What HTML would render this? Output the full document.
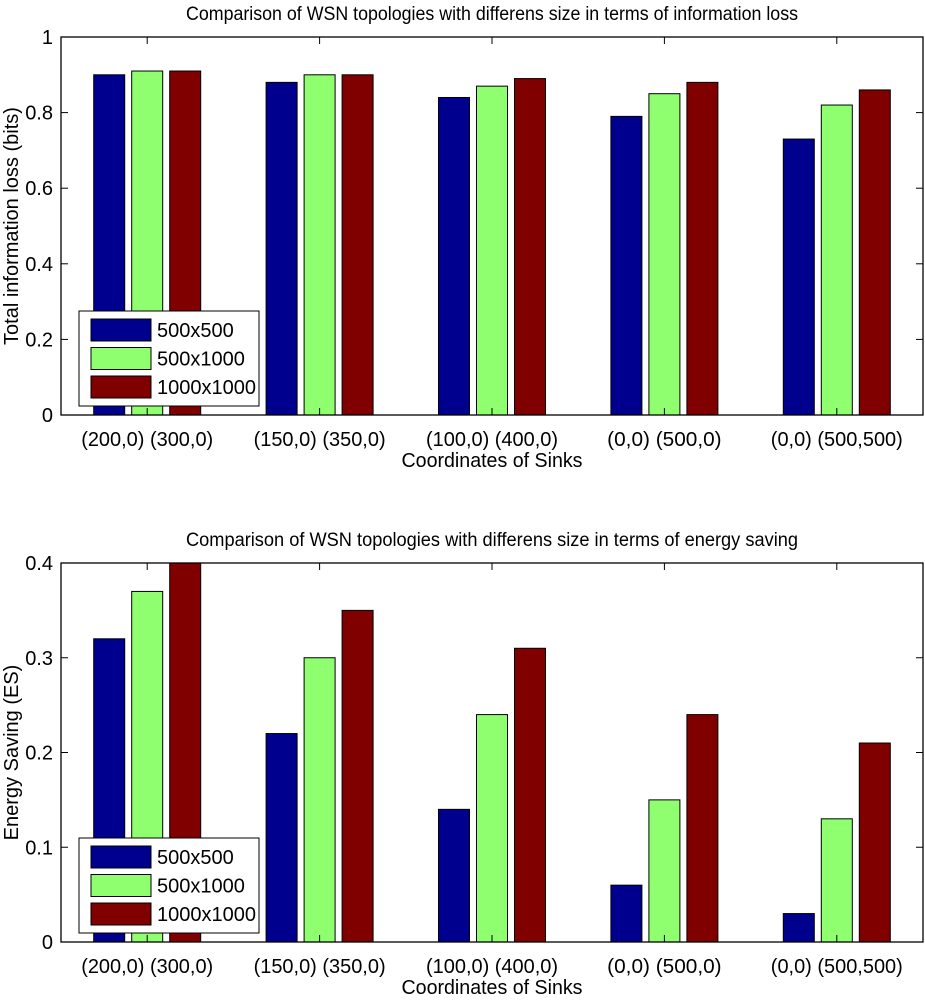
<!DOCTYPE html>
<html><head><meta charset="utf-8"><style>
body{margin:0;background:#fff}
svg text{font-family:"Liberation Sans",sans-serif;fill:#000}
</style></head><body>
<svg id="svg" width="925" height="1000" xmlns="http://www.w3.org/2000/svg"></svg>
<script>
const categories=["(200,0) (300,0)","(150,0) (350,0)","(100,0) (400,0)","(0,0) (500,0)","(0,0) (500,500)"];
const seriesNames=["500x500","500x1000","1000x1000"];
const lossA=[0.90,0.88,0.84,0.79,0.73];
const lossB=[0.91,0.90,0.87,0.85,0.82];
const lossC=[0.91,0.90,0.89,0.88,0.86];
const esA=[0.32,0.22,0.14,0.06,0.03];
const esB=[0.37,0.30,0.24,0.15,0.13];
const esC=[0.40,0.35,0.31,0.24,0.21];
const lossTicks=["0","0.2","0.4","0.6","0.8","1"];
const esTicks=["0","0.1","0.2","0.3","0.4"];
const colors=["#00008f","#8fff70","#800000"];
const NS="http://www.w3.org/2000/svg";
const svg=document.getElementById('svg');
function mk(t,a,p){const e=document.createElementNS(NS,t);for(const k in a)e.setAttribute(k,a[k]);(p||svg).appendChild(e);return e;}
function chart(name,top,bottom,ymax,ticks,series,title,ylabel){
  const L=61,R=923,W=R-L,gw=W/categories.length;
  const g=mk('g',{});
  
  
  const y=v=>bottom-(v/ymax)*(bottom-top);
  const x=i=>L+gw*(i+0.5);
  const t=mk('text',{x:(L+R)/2,y:top-17,'text-anchor':'middle','font-size':19,textLength:612,lengthAdjust:'spacingAndGlyphs'},g);t.textContent=title;
  
  series.forEach((s,si)=>{s.forEach((v,i)=>{
    const r=mk('rect',{x:x(i)+(si-1)*38-15.5,y:y(v),width:31,height:bottom-y(v),fill:colors[si],stroke:'#000','stroke-width':1},g);
    
    
  });});
  mk('rect',{x:L,y:top,width:W,height:bottom-top,fill:'none',stroke:'#000','stroke-width':1.3},g);
  ticks.forEach(tk=>{const yy=y(parseFloat(tk));
    mk('line',{x1:L,x2:L+7,y1:yy,y2:yy,stroke:'#000'},g);mk('line',{x1:R,x2:R-7,y1:yy,y2:yy,stroke:'#000'},g);
    const tt=mk('text',{x:L-8,y:yy+7,'text-anchor':'end','font-size':20},g);tt.textContent=tk;
    });
  categories.forEach((c,i)=>{
    mk('line',{x1:x(i),x2:x(i),y1:bottom,y2:bottom-7,stroke:'#000'},g);mk('line',{x1:x(i),x2:x(i),y1:top,y2:top+7,stroke:'#000'},g);
    const tt=mk('text',{x:x(i),y:bottom+31,'text-anchor':'middle','font-size':20,textLength:c.length*8.8,lengthAdjust:'spacingAndGlyphs'},g);tt.textContent=c;
    });
  const xt=mk('text',{x:(L+R)/2,y:bottom+52,'text-anchor':'middle','font-size':20,textLength:181,lengthAdjust:'spacingAndGlyphs'},g);xt.textContent='Coordinates of Sinks';
  
  const yt=mk('text',{x:0,y:0,'text-anchor':'middle','font-size':20,transform:`translate(18,${(top+bottom)/2}) rotate(-90)`},g);yt.textContent=ylabel;
  
  const lg=mk('g',{},g);
  
  const ly=bottom-104;
  mk('rect',{x:79,y:ly,width:180,height:95,fill:'#fff',stroke:'#000'},lg);
  seriesNames.forEach((n,si)=>{const cy=ly+19+si*28.5;
    mk('rect',{x:91,y:cy-11,width:60,height:22,fill:colors[si],stroke:'#000'},lg);
    const lt=mk('text',{x:157,y:cy+7,'font-size':20},lg);lt.textContent=n;
    });
}
chart('info-loss-chart',37,415,1,lossTicks,[lossA,lossB,lossC],'Comparison of WSN topologies with differens size in terms of information loss','Total information loss (bits)');
chart('energy-saving-chart',563,942,0.4,esTicks,[esA,esB,esC],'Comparison of WSN topologies with differens size in terms of energy saving','Energy Saving (ES)');
</script>
</body></html>
